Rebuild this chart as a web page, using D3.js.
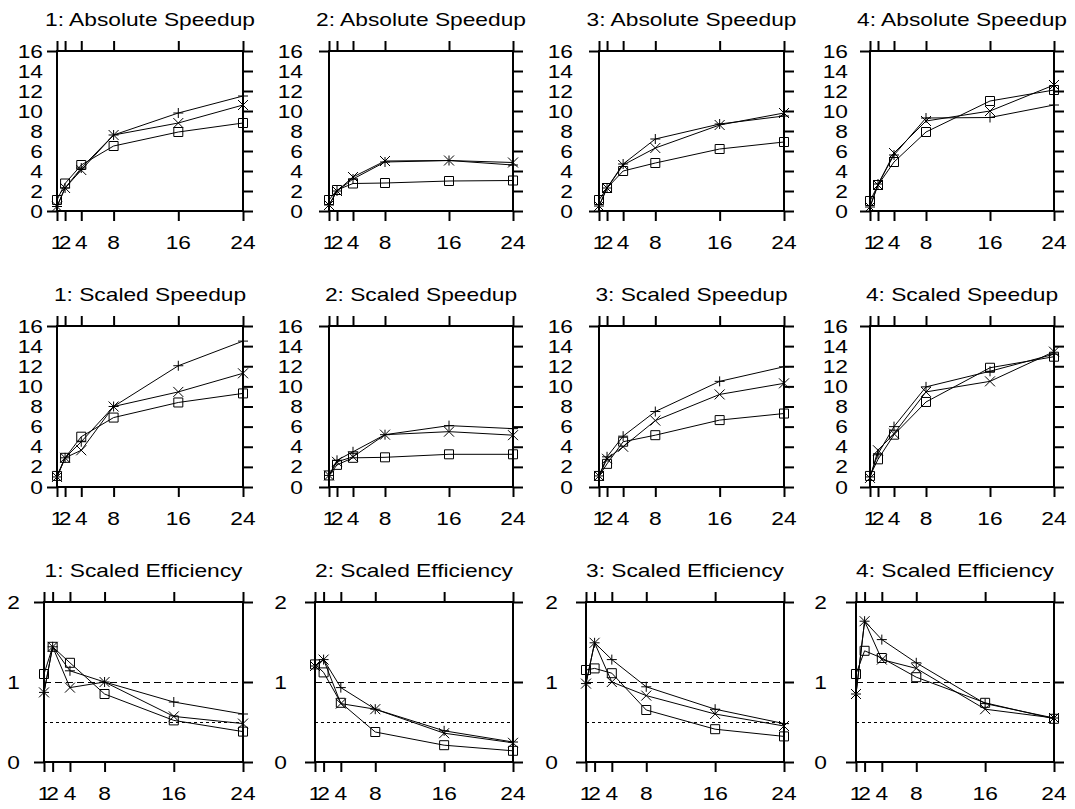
<!DOCTYPE html>
<html>
<head>
<meta charset="utf-8">
<script src="https://cdn.jsdelivr.net/npm/d3@7"></script>
<style>
  body { margin: 0; background: #fff; }
  text { font-family: "Liberation Sans", Arial, sans-serif; fill: #000; }
</style>
</head>
<body>
<script>
// processor counts on the x axis
var procs = [1, 2, 4, 8, 16, 24];
var panelNames = ["1", "2", "3", "4"];

// absolute speedup, one row per panel
var absPlus = [
  [0.45, 2.3, 4.3, 7.6, 9.8, 11.5],
  [0.6, 2.0, 3.2, 4.9, 5.05, 4.6],
  [0.5, 2.3, 4.7, 7.2, 8.7, 9.5],
  [0.4, 2.7, 5.6, 9.3, 9.35, 10.6]
];
var absCross = [
  [0.45, 2.3, 4.1, 7.6, 8.8, 10.6],
  [0.6, 2.0, 3.4, 5.0, 5.05, 4.85],
  [0.5, 2.3, 4.6, 6.3, 8.6, 9.8],
  [0.4, 2.6, 5.8, 9.0, 10.0, 12.6]
];
var absSquare = [
  [1.1, 2.75, 4.6, 6.5, 7.9, 8.8],
  [1.1, 2.1, 2.75, 2.8, 3.0, 3.05],
  [1.1, 2.3, 4.0, 4.8, 6.2, 6.9],
  [1.0, 2.6, 4.9, 7.9, 11.0, 12.1]
];

// scaled speedup
var scaledPlus = [
  [1.0, 2.9, 4.5, 8.0, 12.05, 14.5],
  [1.15, 2.65, 3.5, 5.2, 6.1, 5.8],
  [1.1, 3.0, 5.05, 7.5, 10.5, 11.95],
  [1.0, 3.3, 6.0, 9.95, 11.5, 13.2]
];
var scaledCross = [
  [1.0, 2.9, 3.65, 8.0, 9.45, 11.3],
  [1.15, 2.5, 3.0, 5.2, 5.5, 5.15],
  [1.1, 2.8, 4.0, 6.6, 9.2, 10.3],
  [0.9, 3.65, 5.3, 9.45, 10.5, 13.45]
];
var scaledSquare = [
  [1.1, 2.9, 5.0, 6.9, 8.4, 9.3],
  [1.15, 2.2, 2.9, 2.95, 3.25, 3.25],
  [1.1, 2.3, 4.5, 5.15, 6.65, 7.3],
  [1.1, 2.75, 5.2, 8.45, 11.85, 12.95]
];

// scaled efficiency
var effPlus = [
  [0.87, 1.44, 1.14, 1.0, 0.75, 0.6],
  [1.2, 1.28, 0.93, 0.66, 0.39, 0.25],
  [0.98, 1.49, 1.28, 0.94, 0.66, 0.48],
  [0.85, 1.76, 1.53, 1.24, 0.73, 0.55]
];
var effCross = [
  [0.87, 1.44, 0.93, 1.0, 0.57, 0.48],
  [1.2, 1.28, 0.73, 0.66, 0.36, 0.24],
  [0.98, 1.49, 1.0, 0.83, 0.6, 0.45],
  [0.85, 1.76, 1.28, 1.17, 0.66, 0.55]
];
var effSquare = [
  [1.1, 1.44, 1.24, 0.85, 0.52, 0.38],
  [1.22, 1.12, 0.74, 0.375, 0.21, 0.14],
  [1.15, 1.17, 1.11, 0.65, 0.41, 0.32],
  [1.1, 1.39, 1.3, 1.06, 0.74, 0.54]
];

var speedTicks = [0, 2, 4, 6, 8, 10, 12, 14, 16];
var effTicks = [0, 1, 2];

// page layout (pixels)
var svgWidth = 1075;
var svgHeight = 809;
var speedLeft = [57, 329, 599, 870];
var speedLabelX = [43, 303, 573, 848];
var effLeft = [44, 315, 586, 856];
var effLabelX = [20, 287, 558, 827];
var plotRight = [243, 513, 784, 1054];
var rowTop = [51, 326, 602];
var rowBottom = [211, 487, 762];
var tickLen = 10;
var fontSize = 18.5;
var stretch = 1.23; // text in the picture is a bit wide

var rows = [
  { title: "Absolute Speedup", plus: absPlus, cross: absCross, square: absSquare, ticks: speedTicks, max: 16, left: speedLeft, labelX: speedLabelX },
  { title: "Scaled Speedup", plus: scaledPlus, cross: scaledCross, square: scaledSquare, ticks: speedTicks, max: 16, left: speedLeft, labelX: speedLabelX },
  { title: "Scaled Efficiency", plus: effPlus, cross: effCross, square: effSquare, ticks: effTicks, max: 2, left: effLeft, labelX: effLabelX }
];

var svg = d3.select("body")
  .append("svg")
  .attr("width", svgWidth)
  .attr("height", svgHeight);

function addText(g, x, y, str, anchor) {
  g.append("text")
    .attr("transform", `translate(${x},${y}) scale(${stretch},1)`)
    .attr("text-anchor", anchor)
    .attr("font-size", fontSize)
    .text(str);
}

rows.forEach(function(row, r) {
  panelNames.forEach(function(name, c) {
    var g = svg.append("g");

    var x = d3.scaleLinear()
      .domain([1, 24])
      .range([row.left[c], plotRight[c]]);
    var y = d3.scaleLinear()
      .domain([0, row.max])
      .range([rowBottom[r], rowTop[r]]);

    // reference lines for efficiency
    if (r === 2) {
      g.append("line")
        .attr("x1", x(1)).attr("x2", x(24))
        .attr("y1", y(1) + 0.5).attr("y2", y(1) + 0.5)
        .attr("stroke", "#000").attr("stroke-dasharray", "7,4")
        .attr("shape-rendering", "crispEdges");
      g.append("line")
        .attr("x1", x(1)).attr("x2", x(24))
        .attr("y1", y(0.5) + 0.5).attr("y2", y(0.5) + 0.5)
        .attr("stroke", "#000").attr("stroke-dasharray", "3,3")
        .attr("shape-rendering", "crispEdges");
    }

    // frame + ticks, drawn through d3 axes
    var axes = [
      d3.axisRight(y).tickValues(row.ticks),
      d3.axisLeft(y).tickValues([0, row.max]),
      d3.axisTop(x).tickValues(procs),
      d3.axisBottom(x).tickValues(procs)
    ];
    var where = [
      `translate(${x(24)},0)`,
      `translate(${x(1)},0)`,
      `translate(0,${y(row.max)})`,
      `translate(0,${y(0)})`
    ];
    axes.forEach(function(ax, i) {
      var a = g.append("g")
        .attr("transform", where[i])
        .call(ax.tickSize(tickLen).tickFormat(""));
      a.select(".domain").remove();
      a.selectAll("line").attr("stroke-width", 2);
    });
    g.append("rect")
      .attr("x", x(1)).attr("y", y(row.max))
      .attr("width", x(24) - x(1)).attr("height", y(0) - y(row.max))
      .attr("fill", "none").attr("stroke", "#000").attr("stroke-width", 2);

    // tick labels
    row.ticks.forEach(function(t) {
      addText(g, row.labelX[c], y(t) + 6.5, t, "end");
    });
    procs.forEach(function(p) {
      addText(g, x(p), rowBottom[r] + 38, p, "middle");
    });

    // title
    addText(g, (x(1) + x(24)) / 2, rowTop[r] - 25, name + ": " + row.title, "middle");

    // series
    var line = d3.line()
      .x(function(d, i) { return x(procs[i]); })
      .y(function(d) { return y(d); });

    var shapes = {
      plus: "M-5,0H5M0,-5V5",
      cross: "M-5,-5L5,5M-5,5L5,-5",
      square: "M-4.5,-4.5H4.5V4.5H-4.5Z"
    };

    ["plus", "cross", "square"].forEach(function(key) {
      var vals = row[key][c];
      g.append("path")
        .attr("d", line(vals))
        .attr("fill", "none")
        .attr("stroke", "#000")
        .attr("stroke-width", 1);
      g.selectAll(null)
        .data(vals)
        .enter()
        .append("path")
        .attr("transform", function(d, i) { return `translate(${x(procs[i])},${y(d)})`; })
        .attr("d", shapes[key])
        .attr("fill", "none")
        .attr("stroke", "#000")
        .attr("stroke-width", 1);
    });
  });
});
</script>
</body>
</html>
